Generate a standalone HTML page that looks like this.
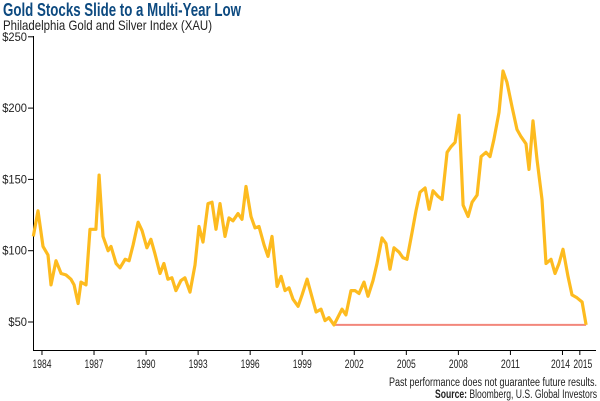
<!DOCTYPE html>
<html><head><meta charset="utf-8"><style>
body{margin:0;background:#fff;width:600px;height:401px;overflow:hidden;font-family:"Liberation Sans",sans-serif}
svg{display:block}
</style></head><body>
<svg id="chart" width="600" height="401">
<text x="3" y="16" font-size="18" font-weight="bold" fill="#0d4a80" textLength="238" lengthAdjust="spacingAndGlyphs">Gold Stocks Slide to a Multi-Year Low</text>
<text x="3" y="30" font-size="14" fill="#222" textLength="209" lengthAdjust="spacingAndGlyphs">Philadelphia Gold and Silver Index (XAU)</text>
<line x1="33.5" y1="36" x2="33.5" y2="350.5" stroke="#000" stroke-width="1"/>
<line x1="33" y1="350.5" x2="596" y2="350.5" stroke="#000" stroke-width="1"/>
<g id="yt"></g><g id="xt"></g><g id="marks"></g>
<text x="597" y="386" font-size="11.5" fill="#222" text-anchor="end" textLength="208" lengthAdjust="spacingAndGlyphs">Past performance does not guarantee future results.</text>
<text x="597" y="398" font-size="11.5" fill="#222" text-anchor="end" textLength="162" lengthAdjust="spacingAndGlyphs"><tspan font-weight="bold">Source:</tspan> Bloomberg, U.S. Global Investors</text>
</svg>
<script>
const yTicks=[50,100,150,200,250];
const xTicks=[1984,1987,1990,1993,1996,1999,2002,2005,2008,2011,2014,2015];
const years=[1983.50,1983.77,1984.06,1984.35,1984.52,1984.81,1985.10,1985.38,1985.67,1985.85,1986.08,1986.25,1986.54,1986.77,1987.11,1987.29,1987.52,1987.81,1987.98,1988.27,1988.50,1988.79,1989.02,1989.25,1989.54,1989.77,1990.05,1990.28,1990.51,1990.80,1991.03,1991.26,1991.49,1991.72,1992.01,1992.24,1992.53,1992.82,1993.05,1993.28,1993.57,1993.80,1994.03,1994.26,1994.55,1994.78,1995.01,1995.30,1995.53,1995.76,1996.05,1996.28,1996.51,1996.80,1997.03,1997.26,1997.55,1997.78,1998.01,1998.24,1998.47,1998.76,1998.99,1999.28,1999.80,2000.08,2000.31,2000.54,2000.83,2001.29,2001.52,2001.81,2002.04,2002.27,2002.56,2002.79,2003.08,2003.31,2003.60,2003.83,2004.06,2004.29,2004.58,2004.81,2005.04,2005.33,2005.56,2005.79,2006.08,2006.31,2006.54,2006.83,2007.06,2007.35,2007.58,2007.81,2008.04,2008.27,2008.56,2008.79,2009.08,2009.31,2009.59,2009.82,2010.05,2010.34,2010.57,2010.80,2011.09,2011.38,2011.61,2011.90,2012.07,2012.30,2012.53,2012.82,2013.05,2013.34,2013.57,2013.80,2014.03,2014.32,2014.55,2014.84,2015.13,2015.36];
const values=[110,128,103,97,76,93,84,83,80,76,63,78,76,115,115,153,110,100,103,91,88,94,93,104,120,114,102,108,98,84,91,80,81,72,79,81,71,90,117,106,133,134,115,133,110,123,121,126,122,145,124,116,117,104,96,110,75,82,72,74,66,61,69,80,57,59,51,53,48,59,55,72,72,70,78,68,79,91,109,105,87,102,99,95,94,113,128,141,144,129,142,138,136,169,173,176,195,132,124,134,139,166,169,166,178,197,226,218,201,185,180,175,157,191,164,136,91,94,84,91,101,82,69,67,64,48];
const lowStart=2000.83, lowEnd=2015.36, lowValue=48;
const NS="http://www.w3.org/2000/svg";
const x=v=>33.3+(v-1983.5)*17.35;
const y=v=>322-(v-50)*1.426;
const yt=document.getElementById('yt'),xt=document.getElementById('xt'),mk=document.getElementById('marks');
function mkEl(t,a,p){const e=document.createElementNS(NS,t);for(const k in a)e.setAttribute(k,a[k]);p.appendChild(e);return e;}
yTicks.forEach(v=>{
 const l=mkEl('line',{x1:28,x2:33,y1:y(v),y2:y(v),stroke:'#000'},yt);
 
 
 const t=mkEl('text',{x:27,y:y(v)+4,'font-size':11.5,'text-anchor':'end',fill:'#222',textLength:(String(v).length+1)*6.2,lengthAdjust:'spacingAndGlyphs'},yt);
 t.textContent='$'+v;
 
 
});
xTicks.forEach(v=>{
 const l=mkEl('line',{x1:x(v),x2:x(v),y1:350,y2:355,stroke:'#000'},xt);
 
 
 const lx=v===2014?x(v)-2:(v===2015?x(v)+3:x(v));
 const t=mkEl('text',{x:lx,y:368,'font-size':11.5,'text-anchor':'middle',fill:'#222',textLength:19,lengthAdjust:'spacingAndGlyphs'},xt);
 t.textContent=v;
 
 
});
const low=mkEl('line',{x1:x(lowStart),x2:x(lowEnd),y1:y(lowValue),y2:y(lowValue),stroke:'#f2877c','stroke-width':2},mk);


const p=mkEl('polyline',{points:years.map((yr,i)=>x(yr).toFixed(1)+','+y(values[i]).toFixed(1)).join(' '),fill:'none',stroke:'#fdbb1f','stroke-width':3.2,'stroke-linejoin':'round'},mk);


</script>
</body></html>
